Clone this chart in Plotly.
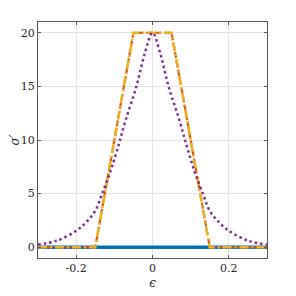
import plotly.graph_objects as go

# Data
eps_blue = [-0.3, 0.3]
sig_blue = [0, 0]

eps_trap = [-0.3, -0.15, -0.05, 0.05, 0.15, 0.3]
sig_orange = [0, 0, 20, 20, 0, 0]
sig_yellow = [0, 0, 20, 20, 0, 0]

eps_purple = [-0.3, -0.25, -0.2, -0.175, -0.15, -0.132, -0.11, -0.09, -0.07, -0.042, -0.02, 0,
              0.02, 0.042, 0.07, 0.09, 0.11, 0.132, 0.15, 0.175, 0.2, 0.25, 0.3]
sig_purple = [0.25, 0.62, 1.54, 2.3, 3.4, 5.0, 7.1, 9.4, 11.9, 15.0, 18.1, 20,
              18.1, 15.0, 11.9, 9.4, 7.1, 5.0, 3.4, 2.3, 1.54, 0.62, 0.25]

x_ticks = [-0.2, 0, 0.2]
x_tick_labels = ["-0.2", "0", "0.2"]
y_ticks = [0, 5, 10, 15, 20]
y_tick_labels = ["0", "5", "10", "15", "20"]

fig = go.Figure()
fig.add_trace(go.Scatter(x=eps_blue, y=sig_blue, mode="lines",
                         line=dict(color="#0072BD", width=3.5)))
fig.add_trace(go.Scatter(x=eps_trap, y=sig_orange, mode="lines",
                         line=dict(color="#D95319", width=2.2, dash="6px,3px")))
fig.add_trace(go.Scatter(x=eps_trap, y=sig_yellow, mode="lines",
                         line=dict(color="#EDB120", width=2.6, dash="9px,3px,2px,3px")))
fig.add_trace(go.Scatter(x=eps_purple, y=sig_purple, mode="lines", line_shape="spline",
                         line=dict(color="#7E2F8E", width=2.5, dash="2.5px,3px")))

SERIF = "DejaVu Serif"
font = dict(family=SERIF, size=11, color="#262626")
axis_common = dict(showline=True, mirror="ticks", linecolor="#555555", linewidth=1,
                   ticks="inside", ticklen=3, tickcolor="#555555",
                   showgrid=True, gridcolor="#e3e3e3", gridwidth=1, zeroline=False,
                   tickfont=font, automargin=False)

fig.update_layout(
    width=288, height=288,
    margin=dict(l=30, r=29, t=14, b=38, autoexpand=False),
    font=dict(family=SERIF),
    paper_bgcolor="white", plot_bgcolor="white",
    showlegend=False,
    xaxis=dict(range=[-0.3, 0.3], tickvals=x_ticks, ticktext=x_tick_labels,
               title=dict(text="<i>ϵ</i>", font=dict(family=SERIF, size=12, color="#262626"), standoff=4),
               **axis_common),
    yaxis=dict(range=[-1, 21], tickvals=y_ticks, ticktext=y_tick_labels,
               title=dict(text="<i>σ′</i>", font=dict(family=SERIF, size=12, color="#262626"), standoff=6),
               **axis_common),
)
fig.write_html("out.html")
